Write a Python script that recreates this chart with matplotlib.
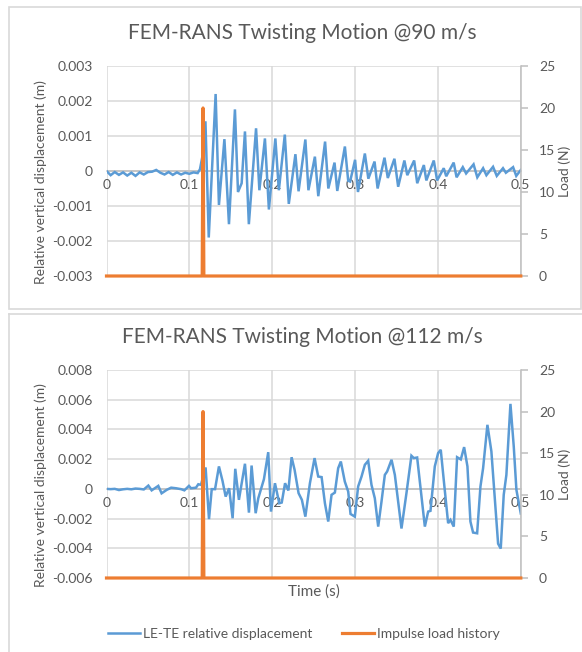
import matplotlib
matplotlib.use('Agg')
import matplotlib.pyplot as plt
from matplotlib.lines import Line2D
from matplotlib.patches import Rectangle

# ---------------- data ----------------
x_ticks = [0, 0.1, 0.2, 0.3, 0.4, 0.5]
x_ticklabels = ["0", "0.1", "0.2", "0.3", "0.4", "0.5"]
load_ticks = [0, 5, 10, 15, 20, 25]
load_ticklabels = ["0", "5", "10", "15", "20", "25"]

top_title = "FEM-RANS Twisting Motion @90 m/s"
bot_title = "FEM-RANS Twisting Motion @112 m/s"
ylabel_left = "Relative vertical displacement (m)"
ylabel_right = "Load (N)"
xlabel = "Time (s)"
series_names = ["LE-TE relative displacement", "Impulse load history"]

top_yticks = [-0.003, -0.002, -0.001, 0, 0.001, 0.002, 0.003]
top_yticklabels = ["-0.003", "-0.002", "-0.001", "0", "0.001", "0.002", "0.003"]
bot_yticks = [-0.006, -0.004, -0.002, 0, 0.002, 0.004, 0.006, 0.008]
bot_yticklabels = ["-0.006", "-0.004", "-0.002", "0", "0.002", "0.004", "0.006", "0.008"]

# impulse load history (N)
load_t = [0, 0.1155, 0.1165, 0.1175, 0.5]
load_v = [0, 0, 20, 0, 0]

# 90 m/s displacement (x1e-3 m)
top_t = [0, 0.005, 0.01, 0.015, 0.02, 0.025, 0.03, 0.035, 0.04, 0.045, 0.05, 0.055,
         0.06, 0.065, 0.07, 0.075, 0.08, 0.085, 0.09, 0.095, 0.1, 0.105, 0.11,
         0.1128, 0.1156, 0.1194, 0.1234, 0.1317, 0.1357, 0.1423, 0.1478, 0.1550,
         0.1587, 0.1631, 0.1671, 0.1718, 0.1805, 0.1845, 0.1912, 0.1960, 0.2038,
         0.2080, 0.2152, 0.2200, 0.2280, 0.2318, 0.2400, 0.2437, 0.2515, 0.2556,
         0.2638, 0.2677, 0.2752, 0.2785, 0.2877, 0.2917, 0.2940, 0.3000, 0.3035,
         0.3118, 0.3160, 0.3235, 0.3272, 0.3355, 0.3395, 0.3475, 0.3520, 0.3595,
         0.3630, 0.3713, 0.3750, 0.3830, 0.3860, 0.3950, 0.3990, 0.4070, 0.4100,
         0.4190, 0.4225, 0.4300, 0.4340, 0.4430, 0.4475, 0.4545, 0.4585, 0.4665,
         0.4710, 0.4785, 0.4820, 0.4907, 0.4945, 0.5000]
top_v = [0, -0.12, -0.03, -0.11, -0.04, -0.13, -0.05, -0.14, -0.04, -0.10, -0.03, -0.02,
         0.03, -0.05, -0.10, -0.03, -0.11, -0.04, -0.10, -0.05, -0.08, -0.04, -0.06,
         0.05, 0.40, 1.42, -1.90, 2.20, -0.97, 0.91, -1.52, 1.76,
         -0.60, -0.35, 1.13, -1.52, 1.22, -0.55, 0.93, -1.10, 0.93,
         -0.55, 1.04, -0.94, 0.48, -0.58, 0.90, -0.55, 0.41, -0.72,
         0.84, -0.50, 0.24, -0.57, 0.70, -0.28, -0.30, 0.32, -0.60,
         0.50, -0.22, 0.27, -0.50, 0.38, -0.20, 0.35, -0.45, 0.30,
         -0.12, 0.30, -0.35, 0.17, -0.27, 0.30, -0.27, 0.08, -0.15,
         0.24, -0.18, 0.11, -0.07, 0.19, -0.18, 0.08, -0.12, 0.12,
         -0.14, 0.08, -0.05, 0.11, -0.14, 0.03]

# 112 m/s displacement (x1e-3 m)
bot_t = [0, 0.005, 0.01, 0.015, 0.02, 0.025, 0.03, 0.035, 0.04, 0.045, 0.0505, 0.0545,
         0.0625, 0.0665, 0.0726, 0.078, 0.084, 0.090, 0.094, 0.0995, 0.102, 0.108,
         0.1108, 0.114,
         0.1196, 0.1237, 0.1270, 0.1310, 0.1357, 0.1400, 0.1438, 0.1480, 0.1522,
         0.1554, 0.1598, 0.1671, 0.1719, 0.1751, 0.1800, 0.1832, 0.1900, 0.1952,
         0.1985, 0.2033, 0.2085, 0.2115, 0.2155, 0.2195, 0.2234, 0.2270, 0.2318,
         0.2358, 0.2400, 0.2455, 0.2511, 0.2555, 0.2596, 0.2636, 0.2676, 0.2716,
         0.2756, 0.2796, 0.2828, 0.2876, 0.2917, 0.2945, 0.2997, 0.3037, 0.3078,
         0.3118, 0.3158, 0.3198, 0.3238, 0.3279, 0.3319, 0.3359, 0.3387, 0.3440,
         0.3480, 0.3560, 0.3620, 0.3680, 0.3709, 0.3749, 0.3842, 0.3882, 0.3910,
         0.3962, 0.4002, 0.4034, 0.4074, 0.4123, 0.4151, 0.4191, 0.4231, 0.4276,
         0.4316, 0.4356, 0.4392, 0.4424, 0.4473, 0.4513, 0.4545, 0.4597, 0.4645,
         0.4686, 0.4726, 0.4758, 0.4794, 0.4826, 0.4875, 0.4915, 0.4947, 0.5000]
bot_v = [0, -0.02, 0.0, -0.08, -0.03, 0.0, -0.03, 0.02, 0.0, -0.04, 0.22, -0.10,
         0.20, -0.30, -0.07, 0.08, 0.04, -0.02, -0.10, 0.20, 0.04, 0.08,
         0.31, 0.27,
         1.44, -2.04, -0.02, -0.02, 1.51, 0.54, -0.52, 0.04, -1.98,
         1.35, -0.74, 1.69, -1.60, 1.57, -1.64, -0.63, 0.65, 2.47,
         -1.53, 0.38, -0.97, -0.92, 0.38, -0.11, 2.13, 1.28, -0.29,
         -0.74, -1.87, 0.38, 2.07, 0.83, 0.79, -0.97, -2.20, -0.40,
         -0.25, 1.39, 1.84, 0.49, -0.18, -1.69, -1.87, 0.16, 0.83,
         1.62, 1.89, 0.27, -0.63, -2.54, -0.85, 0.94, 1.17, 1.96,
         0.94, -2.67, -0.29, 2.23, 2.07, 2.11, -2.54, -1.53, -1.48,
         1.51, 2.40, 2.63, 0.38, -2.31, -2.09, -2.54, 2.13, 1.98,
         2.81, 1.51, -2.20, -2.94, -2.99, 0.16, 1.39, 4.31, 2.52,
         -0.63, -3.69, -4.02, -0.40, 0.94, 5.72, 2.85, -0.07, -1.66]

# ---------------- style ----------------
W, H = 582, 652
plt.rcParams['font.family'] = ['Lato', 'DejaVu Sans']
GRAY = '#595959'
GRID = '#d9d9d9'
AXIS = '#bfbfbf'
BLUE = '#5B9BD5'
ORANGE = '#ED7D31'
TICK_FS = 10
LABEL_FS = 10
TITLE_FS = 15

fig = plt.figure(figsize=(W / 100, H / 100), dpi=100)


def fx(px):
    return px / W


def fy(py):
    return 1 - py / H


def panel(box, t, v, yticks, yticklabels, title, title_y, ylab_y):
    l, top, r, b = box
    ax = fig.add_axes([fx(l), fy(b), (r - l) / W, (b - top) / H])
    ax.plot(t, [x * 1e-3 for x in v], color=BLUE, lw=1.8, solid_joinstyle='miter', zorder=3)
    ax.set_xlim(0, 0.5)
    ax.set_ylim(yticks[0], yticks[-1])
    ax.set_yticks(yticks)
    ax.set_yticklabels(yticklabels)
    ax.set_xticks(x_ticks)
    ax.set_xticklabels(x_ticklabels)
    ax.set_axisbelow(True)
    ax.grid(True, color=GRID, lw=1.1)
    for s in ['top', 'left', 'right']:
        ax.spines[s].set_visible(False)
    ax.spines['bottom'].set_position(('data', 0))
    ax.spines['bottom'].set_color(AXIS)
    ax.spines['bottom'].set_linewidth(1.1)
    ax.tick_params(axis='both', length=0, colors=GRAY, labelsize=TICK_FS)
    ax.tick_params(axis='y', pad=10)
    ax.tick_params(axis='x', pad=6)

    ax2 = ax.twinx()
    ax2.plot(load_t, load_v, color=ORANGE, lw=2.3, clip_on=False, zorder=4)
    ax2.set_ylim(0, 25)
    ax2.set_yticks(load_ticks)
    ax2.set_yticklabels(load_ticklabels)
    for s in ['top', 'left', 'bottom']:
        ax2.spines[s].set_visible(False)
    ax2.spines['right'].set_color(AXIS)
    ax2.spines['right'].set_linewidth(1.1)
    ax2.tick_params(axis='y', length=5, width=1.1, color=AXIS, colors=GRAY,
                    labelsize=TICK_FS, pad=8)
    ax2.tick_params(axis='y', color=AXIS)

    fig.text(fx(302), fy(title_y), title, ha='center', va='center',
             fontsize=TITLE_FS, color=GRAY)
    fig.text(fx(41), fy(ylab_y), ylabel_left, ha='center', va='center',
             rotation=90, fontsize=LABEL_FS, color=GRAY)
    fig.text(fx(565), fy((top + b) / 2), ylabel_right, ha='center', va='center',
             rotation=90, fontsize=LABEL_FS, color=GRAY)
    return ax, ax2


# panel frames
fig.add_artist(Rectangle((fx(9), fy(309)), (580.5 - 9) / W, (309 - 7) / H,
                         transform=fig.transFigure, fill=False, ec=GRID, lw=1.2))
fig.add_artist(Line2D([fx(9), fx(582)], [fy(314), fy(314)], transform=fig.transFigure,
                      color=GRID, lw=1.2))
fig.add_artist(Line2D([fx(9), fx(9)], [fy(314), fy(652)], transform=fig.transFigure,
                      color=GRID, lw=1.2))

axA, axA2 = panel((106.5, 66, 520.8, 276), top_t, top_v, top_yticks, top_yticklabels,
                  top_title, 33, 182)
axB, axB2 = panel((106.5, 370, 520.8, 578), bot_t, bot_v, bot_yticks, bot_yticklabels,
                  bot_title, 337, 485)

fig.text(fx(313.5), fy(592), xlabel, ha='center', va='center', fontsize=LABEL_FS + 1,
         color=GRAY)

handles = [Line2D([], [], color=BLUE, lw=1.8), Line2D([], [], color=ORANGE, lw=2.3)]
leg = fig.legend(handles, series_names, loc='center', bbox_to_anchor=(fx(304), fy(634)),
                 ncol=2, frameon=False, fontsize=LABEL_FS, handlelength=2.3,
                 handletextpad=0.25, columnspacing=2.1, borderpad=0)
for txt in leg.get_texts():
    txt.set_color(GRAY)

fig.savefig('out.png', dpi=100)
